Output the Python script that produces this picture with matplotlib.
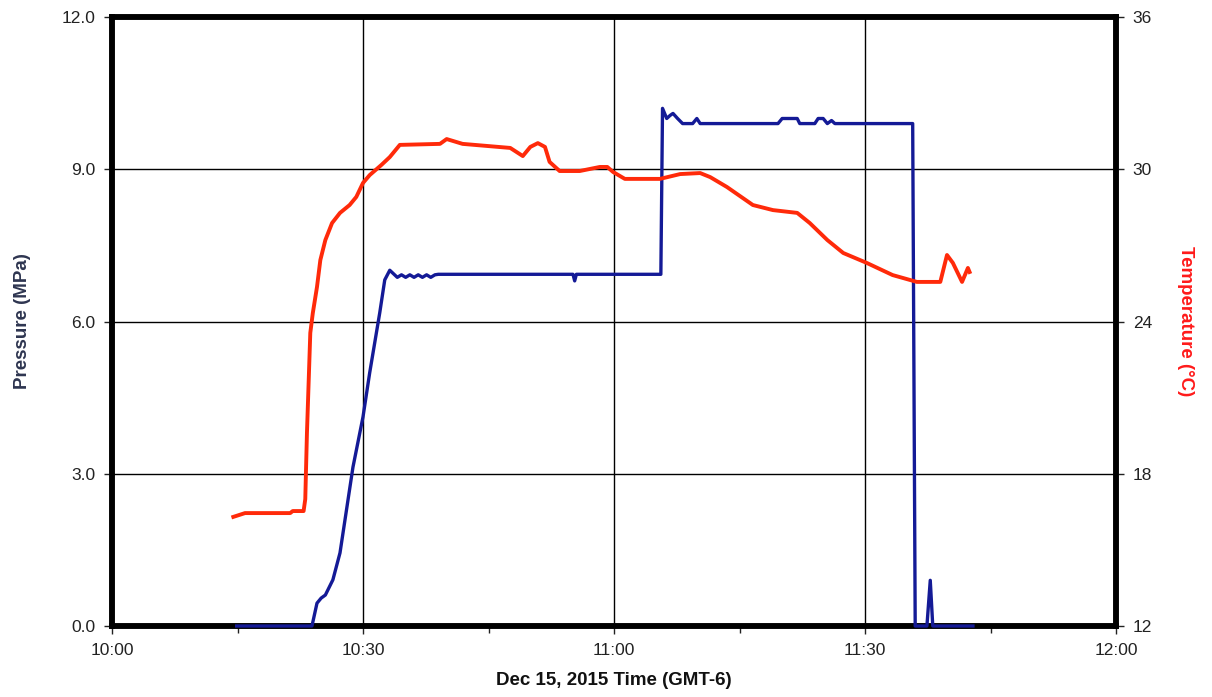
import matplotlib
matplotlib.use('Agg')
import matplotlib.pyplot as plt
from matplotlib.ticker import MultipleLocator

plt.rcParams['font.family'] = ['Liberation Sans', 'DejaVu Sans']

# minutes after 10:00
temp_t = [14.5, 15.9, 21.3, 21.6, 22.9, 23.1, 23.3, 23.7, 24.0, 24.5, 24.9, 25.5, 26.3,
          27.25, 28.4, 29.2, 30.0, 30.8, 32.2, 33.2, 34.4, 39.2, 40.0, 41.2, 41.9, 47.6,
          49.1, 50.0, 50.9, 51.75, 52.3, 53.5, 55.9, 58.3, 59.2, 59.9, 61.3, 65.5, 67.9,
          70.3, 71.5, 73.5, 76.6, 79.0, 81.9, 83.4, 85.5, 87.4, 90.2, 93.3, 96.2, 99.0,
          99.8, 100.5, 101.6, 102.3, 102.5]
temp_c = [16.30, 16.45, 16.45, 16.53, 16.53, 17.0, 19.6, 23.55, 24.33, 25.36, 26.42, 27.21,
          27.88, 28.28, 28.59, 28.91, 29.46, 29.77, 30.17, 30.48, 30.96, 31.0, 31.19, 31.07,
          31.0, 30.84, 30.52, 30.88, 31.03, 30.88, 30.29, 29.93, 29.93, 30.09, 30.09, 29.89,
          29.62, 29.62, 29.81, 29.85, 29.69, 29.30, 28.59, 28.39, 28.28, 27.88, 27.21, 26.70,
          26.31, 25.83, 25.56, 25.56, 26.62, 26.31, 25.56, 26.11, 25.95]

pres_t = [14.9, 23.9, 24.5, 25.0, 25.5, 26.4, 27.25, 28.8, 30.0, 30.8, 32.0, 32.6, 33.2,
          34.1, 34.6, 35.1, 35.6, 36.1, 36.6, 37.1, 37.6, 38.1, 38.6, 39.0, 55.1, 55.3,
          55.5, 65.6, 65.8, 66.3, 66.7, 67.05, 67.6, 68.2, 69.4, 69.9, 70.3, 79.6, 80.1,
          81.9, 82.2, 84.0, 84.4, 85.0, 85.5, 86.0, 86.4, 95.7, 96.0, 97.4, 97.8, 98.1,
          102.9]
pres_mpa = [0.0, 0.0, 0.45, 0.55, 0.61, 0.91, 1.44, 3.13, 4.12, 4.99, 6.17, 6.82, 7.01,
            6.87, 6.92, 6.87, 6.92, 6.87, 6.92, 6.87, 6.92, 6.87, 6.92, 6.93, 6.93, 6.8,
            6.93, 6.93, 10.2, 10.0, 10.06, 10.1, 10.0, 9.9, 9.9, 10.0, 9.9, 9.9, 10.0,
            10.0, 9.9, 9.9, 10.0, 10.0, 9.9, 9.96, 9.9, 9.9, 0.0, 0.0, 0.9, 0.0,
            0.0]

x_ticks = [0, 30, 60, 90, 120]
x_labels = ['10:00', '10:30', '11:00', '11:30', '12:00']
p_ticks = [0, 3, 6, 9, 12]
t_ticks = [12, 18, 24, 30, 36]

fig = plt.figure(figsize=(12.12, 6.97), dpi=100)
ax = fig.add_axes([112/1212, 1 - 626/697, (1116 - 112)/1212, (626 - 17)/697])
ax2 = ax.twinx()

ax.set_xlim(0, 120); ax.set_ylim(0, 12); ax2.set_ylim(12, 36)

# pressure drawn on the top axes (in pressure units) so it sits over the frame
ax2.plot(pres_t, pres_mpa, color='#141a96', lw=2.4, zorder=3, transform=ax.transData,
         clip_on=False)
ax2.plot(temp_t, temp_c, color='#ff2a0a', lw=2.8, zorder=3)
ax2.set_ylim(12, 36)

ax.set_xticks(x_ticks); ax.set_xticklabels(x_labels)
ax.xaxis.set_minor_locator(MultipleLocator(15))
ax.set_yticks(p_ticks); ax.set_yticklabels([f'{v:.1f}' for v in p_ticks])
ax2.set_yticks(t_ticks)
ax.grid(True, color='black', lw=1.0)
ax.set_axisbelow(True)

for a in (ax, ax2):
    for s in a.spines.values():
        s.set_linewidth(4); s.set_color('black')
    a.tick_params(which='both', direction='out', length=6, width=1, colors='#222222',
                  labelsize=12.5, pad=6)
ax.tick_params(axis='x', which='minor', length=5)

ax.set_xlabel('Dec 15, 2015 Time (GMT-6)', fontsize=13.5, fontweight='bold',
              color='#111111', labelpad=10)
ax.set_ylabel('Pressure (MPa)', fontsize=13.5, fontweight='bold', color='#2e3550',
              labelpad=22)
ax2.set_ylabel('Temperature (°C)', fontsize=13.5, fontweight='bold', color='#ff1a1a',
               rotation=270, labelpad=30)

fig.savefig('out.png', dpi=100)
